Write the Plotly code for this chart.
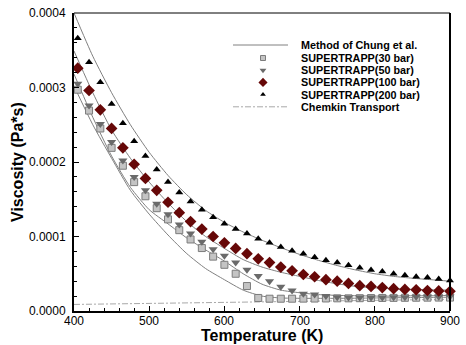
import plotly.graph_objects as go

# ---------------- data (viscosity in units of 1e-4 Pa*s) ----------------
T_sup = [405, 420, 435, 450, 465, 480, 495, 510, 525, 540, 555, 570, 585, 600,
         615, 630, 645, 660, 675, 690, 705, 720, 735, 750, 765, 780, 795, 810,
         825, 840, 855, 870, 885, 900]

sup_30 = [2.97, 2.69, 2.45, 2.19, 1.95, 1.73, 1.54, 1.38, 1.23, 1.085, 0.96, 0.845,
          0.73, 0.62, 0.50, 0.335, 0.175, 0.165, 0.165, 0.165, 0.166, 0.167, 0.168,
          0.17, 0.17, 0.172, 0.174, 0.175, 0.176, 0.177, 0.178, 0.179, 0.18, 0.18]
sup_50 = [3.05, 2.76, 2.51, 2.27, 2.02, 1.80, 1.62, 1.44, 1.30, 1.16, 1.04, 0.93,
          0.83, 0.74, 0.65, 0.555, 0.47, 0.40, 0.325, 0.275, 0.23, 0.22, 0.20,
          0.185, 0.18, 0.18, 0.18, 0.18, 0.185, 0.185, 0.19, 0.19, 0.19, 0.195]
sup_100 = [3.26, 2.96, 2.70, 2.45, 2.19, 1.97, 1.78, 1.62, 1.46, 1.32, 1.20, 1.10,
           1.00, 0.915, 0.84, 0.77, 0.70, 0.65, 0.59, 0.54, 0.49, 0.46, 0.42, 0.40,
           0.37, 0.34, 0.33, 0.315, 0.30, 0.29, 0.285, 0.275, 0.27, 0.265]
sup_200 = [3.66, 3.34, 3.07, 2.78, 2.52, 2.28, 2.08, 1.90, 1.73, 1.59, 1.47, 1.36,
           1.26, 1.17, 1.10, 1.04, 0.97, 0.915, 0.86, 0.81, 0.77, 0.72, 0.68, 0.65,
           0.615, 0.58, 0.55, 0.53, 0.50, 0.48, 0.46, 0.45, 0.43, 0.41]

T_chung = [400, 425, 450, 475, 500, 525, 550, 575, 600, 625, 650, 675, 700, 725,
           750, 775, 800, 825, 850, 875, 900]
chung_30 = [3.02, 2.50, 2.05, 1.62, 1.30, 1.02, 0.77, 0.57, 0.42, 0.28, 0.20, 0.175,
            0.17, 0.17, 0.17, 0.172, 0.175, 0.178, 0.18, 0.183, 0.185]
chung_50 = [3.18, 2.60, 2.08, 1.66, 1.36, 1.17, 0.98, 0.82, 0.67, 0.50, 0.36, 0.28,
            0.245, 0.22, 0.21, 0.205, 0.20, 0.20, 0.205, 0.205, 0.21]
chung_100 = [3.49, 2.93, 2.43, 2.05, 1.73, 1.45, 1.20, 1.00, 0.84, 0.69, 0.59, 0.52,
             0.465, 0.41, 0.365, 0.33, 0.31, 0.30, 0.29, 0.285, 0.28]
chung_200 = [4.00, 3.42, 2.93, 2.50, 2.13, 1.82, 1.56, 1.35, 1.19, 1.06, 0.95, 0.85,
             0.76, 0.68, 0.61, 0.55, 0.50, 0.465, 0.44, 0.42, 0.40]

T_chem = [400, 500, 600, 700, 800, 900]
chemkin = [0.088, 0.103, 0.118, 0.132, 0.145, 0.157]

x_tick_vals = [400, 500, 600, 700, 800, 900]
x_tick_text = ["400", "500", "600", "700", "800", "900"]

legend_labels = ["Method of Chung et al.", "SUPERTRAPP(30 bar)", "SUPERTRAPP(50 bar)",
                 "SUPERTRAPP(100 bar)", "SUPERTRAPP(200 bar)", "Chemkin Transport"]
x_title = "Temperature (K)"
y_title = "Viscosity (Pa*s)"

SCALE = 1e-4
def sc(v):
    return [x * SCALE for x in v]

# ---------------- styles ----------------
FONT = "Liberation Sans, Arial, sans-serif"
LINE_GRAY = "#808080"
CHEM_GRAY = "#a8a8a8"
sq_style = dict(symbol="square", size=7, color="#c4c4c4", line=dict(color="#7c7c7c", width=1))
dn_style = dict(symbol="triangle-down", size=8, color="#6a6a6a", line=dict(color="#6a6a6a", width=0))
di_style = dict(symbol="diamond", size=9, color="#660808", line=dict(color="#660808", width=0))
up_style = dict(symbol="triangle-up", size=7, color="#000000", line=dict(color="#000000", width=0))

fig = go.Figure()

for vals in (chung_30, chung_50, chung_100, chung_200):
    fig.add_trace(go.Scatter(x=T_chung, y=sc(vals), mode="lines",
                             line=dict(color=LINE_GRAY, width=1, shape="spline", smoothing=0.6),
                             showlegend=False, hoverinfo="skip"))

fig.add_trace(go.Scatter(x=T_chem, y=sc(chemkin), mode="lines",
                         line=dict(color=CHEM_GRAY, width=1, dash="6px,2px,2px,2px"),
                         showlegend=False, hoverinfo="skip"))

for vals, st in ((sup_30, sq_style), (sup_50, dn_style), (sup_100, di_style), (sup_200, up_style)):
    fig.add_trace(go.Scatter(x=T_sup, y=sc(vals), mode="markers", marker=st,
                             showlegend=False, cliponaxis=False))

# ---------------- custom legend (overlay axes in [0,1]) ----------------
L, R, TOP, BOT, W, H = 74, 16, 13, 34, 466, 345
PW, PH = W - L - R, H - TOP - BOT
def fx(px):
    return (px - L) / PW
def fy(py):
    return (H - BOT - py) / PH

rows_y = [45, 58, 70.2, 82.4, 94.6, 106.8]
x_line0, x_line1, x_mark, x_text = 233, 288, 263, 300

fig.add_trace(go.Scatter(x=[fx(x_line0), fx(x_line1)], y=[fy(rows_y[0])] * 2, mode="lines",
                         line=dict(color=LINE_GRAY, width=1), xaxis="x2", yaxis="y2",
                         showlegend=False, hoverinfo="skip"))
for i, st in enumerate((sq_style, dn_style, di_style, up_style)):
    s = dict(st)
    s["size"] = st["size"] - 2
    fig.add_trace(go.Scatter(x=[fx(x_mark)], y=[fy(rows_y[i + 1])], mode="markers", marker=s,
                             xaxis="x2", yaxis="y2", showlegend=False, hoverinfo="skip"))
fig.add_trace(go.Scatter(x=[fx(x_line0), fx(x_line1)], y=[fy(rows_y[5])] * 2, mode="lines",
                         line=dict(color=CHEM_GRAY, width=1, dash="6px,2px,2px,2px"),
                         xaxis="x2", yaxis="y2", showlegend=False, hoverinfo="skip"))
for lab, ry in zip(legend_labels, rows_y):
    fig.add_annotation(x=fx(x_text), y=fy(ry), xref="x2", yref="y2", text="<b>%s</b>" % lab,
                       showarrow=False, xanchor="left", yanchor="middle", borderpad=0,
                       font=dict(family=FONT, size=10.8, color="black"))

# x tick labels (placed just under the axis line)
for tv, tt in zip(x_tick_vals, x_tick_text):
    fig.add_annotation(x=tv, y=0, xref="x", yref="paper", text=tt, showarrow=False,
                       xanchor="center", yanchor="top", yshift=-1.5, borderpad=0,
                       font=dict(family=FONT, size=12, color="black"))

# axis titles as annotations for exact placement
fig.add_annotation(x=0.5, y=0, xref="paper", yref="paper", text="<b>%s</b>" % x_title,
                   showarrow=False, xanchor="center", yanchor="top", yshift=-15, borderpad=0,
                   font=dict(family=FONT, size=16, color="black"))
fig.add_annotation(x=0, y=0.5, xref="paper", yref="paper", text="<b>%s</b>" % y_title,
                   showarrow=False, xanchor="center", yanchor="middle", xshift=-57,
                   textangle=-90, font=dict(family=FONT, size=16, color="black"))

axis_common = dict(showgrid=False, zeroline=False, showline=True, linecolor="black", linewidth=2,
                   ticks="inside", ticklen=5, tickwidth=1, tickcolor="black", automargin=False,
                   tickfont=dict(family=FONT, size=12, color="black"))

fig.update_layout(
    width=W, height=H,
    margin=dict(l=L, r=R, t=TOP, b=BOT, autoexpand=False),
    paper_bgcolor="white", plot_bgcolor="white",
    showlegend=False,
    xaxis=dict(range=[400, 900], dtick=100, showticklabels=False,
               minor=dict(ticks="inside", dtick=20, ticklen=3, tickcolor="black"),
               **axis_common),
    yaxis=dict(range=[0, 0.0004], dtick=0.0001, tickformat=".4f",
               minor=dict(ticks="inside", dtick=0.00002, ticklen=3, tickcolor="black"),
               ticklabelstandoff=4,
               **axis_common),
    xaxis2=dict(range=[0, 1], overlaying="x", visible=False, fixedrange=True, automargin=False),
    yaxis2=dict(range=[0, 1], overlaying="y", visible=False, fixedrange=True, automargin=False),
    shapes=[
        dict(type="line", xref="paper", yref="paper", x0=0, x1=1, y0=1, y1=1,
             line=dict(color="black", width=1)),
        dict(type="line", xref="paper", yref="paper", x0=1, x1=1, y0=0, y1=1,
             line=dict(color="black", width=2)),
    ],
)

fig.write_html("out.html")
